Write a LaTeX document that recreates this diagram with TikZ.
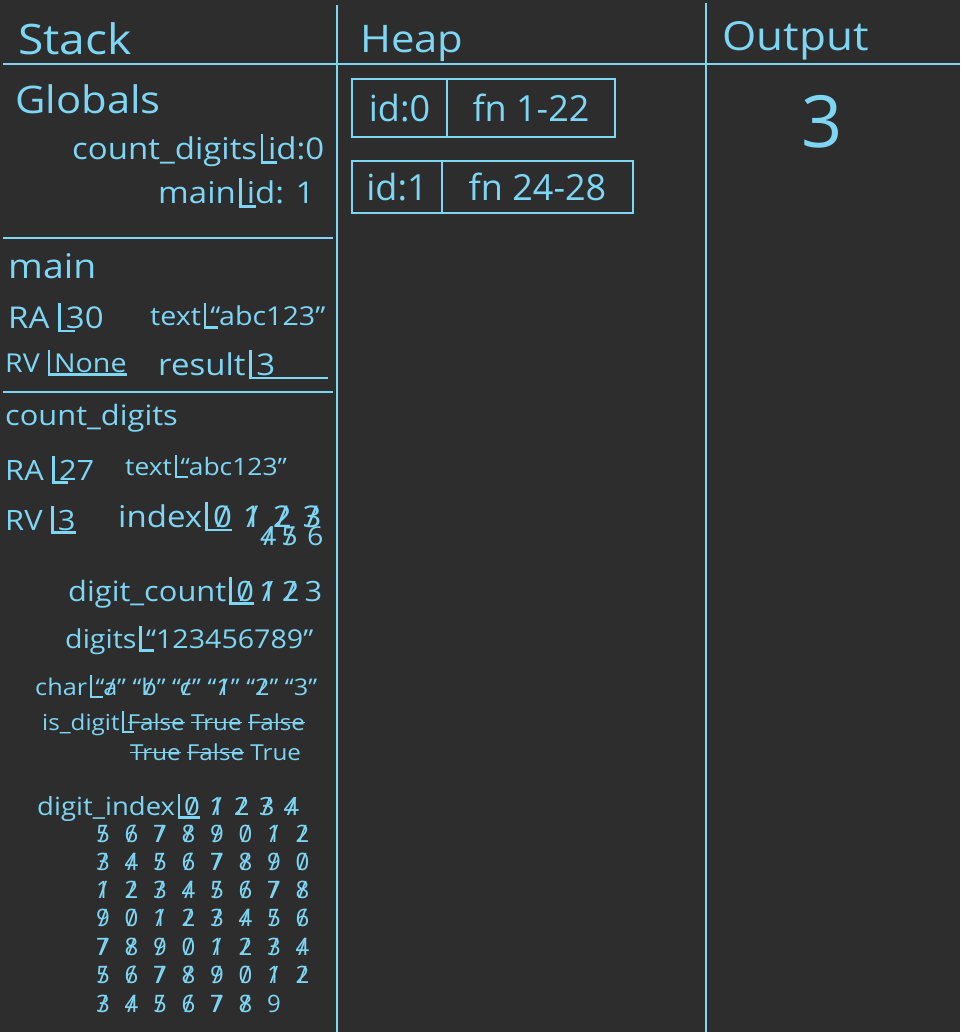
\documentclass[tikz,border=0pt]{standalone}
\usepackage{fontspec}
\setmainfont{Open Sans}
\definecolor{bgc}{RGB}{45,45,45}
\definecolor{ink}{RGB}{126,214,245}
\newsavebox\xboxa
\newsavebox\xboxb
\newsavebox\xboxc
\newcommand\fs[1]{\fontsize{#1}{#1}\selectfont}
\newcommand\Lb{\kern0.1em\vrule width0.09em height0.85em depth0.14em\rlap{\vrule width0.42em height-0.05em depth0.14em}\kern0.14em}
\newcommand\Lu[1]{\sbox\xboxa{#1}\kern0.1em\vrule width0.09em height0.85em depth0.14em\rlap{\vrule width\dimexpr\wd\xboxa+0.14em\relax height-0.05em depth0.14em}\kern0.14em\usebox\xboxa}
\newcommand\xd[1]{\sbox\xboxb{#1}\rlap{\usebox\xboxb}\makebox[\wd\xboxb]{/}}
\newcommand\xw[1]{\sbox\xboxc{#1}\rlap{\usebox\xboxc}\rule[0.3em]{\wd\xboxc}{0.07em}}
\tikzset{
  hw/.style={text=ink, inner sep=0pt, anchor=base west, xscale=1.1},
  hwc/.style={text=ink, inner sep=0pt, anchor=base},
  rule/.style={draw=ink, line width=2.2pt},
  cell/.style={draw=ink, line width=2pt, text=ink, inner sep=0pt, outer sep=0pt, anchor=north west, font=\fs{36}},
}
\begin{document}
\begin{tikzpicture}[x=1pt,y=-1pt]
\fill[bgc] (0,0) rectangle (960,1032);
\useasboundingbox (0,0) rectangle (960,1032);
% frame lines
\draw[rule] (3,64) -- (960,64);
\draw[rule] (337,5) -- (337,1032);
\draw[rule] (706,3) -- (706,1032);
\draw[rule] (3,238) -- (333,238);
\draw[rule] (3,392) -- (333,392);
% headers
\node[hw,font=\fs{42}] (stk) at (18,55) {Stack};
\node[hw,font=\fs{38}] (hp) at (360,53) {Heap};
\node[hw,font=\fs{40}] (outh) at (722,51) {Output};
% globals
\node[hw,font=\fs{38}] (glob) at (15,114) {Globals};
\node[hw,font=\fs{30}] (gcd) at (72,160) {count\_digits\Lb id:0};
\node[hw,font=\fs{30}] (gmain) at (158,204) {main\Lb id: 1};
% main frame
\node[hw,font=\fs{34}] (fmain) at (8,278) {main};
\node[hw,font=\fs{30}] (mra) at (8,328) {RA\,\Lb 30};
\node[hw,font=\fs{26}] (mtext) at (150,325) {text\Lb “abc123”};
\node[hw,font=\fs{26}] (mrv) at (5,372) {RV\,\Lu{None}};
\node[hw,font=\fs{30}] (mres) at (158,375) {result\Lu{3\hspace{1.6em}}};
% count_digits frame
\node[hw,font=\fs{28}] (cdh) at (5,425) {count\_digits};
\node[hw,font=\fs{28}] (cra) at (5,480) {RA\,\Lb 27};
\node[hw,font=\fs{24}] (ctext) at (125,475) {text\Lb “abc123”};
\node[hw,font=\fs{28}] (crv) at (5,530) {RV\,\Lu{3}};
\node[hw,font=\fs{30}] (cidx) at (118,527) {index\Lu{\xd0}\,\,\xd1\,\,\xd2\,\,\xd3};
\node[hw,font=\fs{26}] (cidx2) at (260,545) {\xd4\,\xd5\,\,6};
\node[hw,font=\fs{28}] (cdc) at (68,601) {digit\_count\Lu{\xd0}\,\xd1\,\xd2\,3};
\node[hw,font=\fs{26}] (cdig) at (65,648) {digits\Lb “123456789”};
\node[hw,font=\fs{23}] (cchar) at (35,695) {char\Lb\xd{“a”} \xd{“b”} \xd{“c”} \xd{“1”} \xd{“2”} “3”};
\node[hw,font=\fs{22}] (cis1) at (42,730) {is\_digit\Lb\xw{False} \xw{True} \xw{False}};
\node[hw,font=\fs{22}] (cis2) at (130,760) {\xw{True} \xw{False} True};
\node[hw,font=\fs{25}] (cdi) at (37,815) {digit\_index\Lu{\xd0}\,\,\xd1\,\,\xd2\,\,\xd3\,\,\xd4};
\foreach \row [count=\r] in {{5,6,7,8,9,0,1,2},{3,4,5,6,7,8,9,0},{1,2,3,4,5,6,7,8},{9,0,1,2,3,4,5,6},{7,8,9,0,1,2,3,4},{5,6,7,8,9,0,1,2}}
  \foreach \d [count=\c] in \row
    \node[hwc,font=\fs{24}] (di-\r-\c) at ({103+28.5*(\c-1)},{842+28.3*(\r-1)}) {\xd{\d}};
\foreach \d [count=\c] in {3,4,5,6,7,8}
  \node[hwc,font=\fs{24}] (di-7-\c) at ({103+28.5*(\c-1)},1012) {\xd{\d}};
\node[hwc,font=\fs{24}] (di-7-7) at (274,1012) {9};
% heap
\node[cell, minimum width=95pt, minimum height=58pt] (h0id) at (352,79) {id:0};
\node[cell, minimum width=168pt, minimum height=58pt] (h0fn) at (h0id.north east) {fn 1-22};
\node[cell, minimum width=90pt, minimum height=52pt] (h1id) at (352,161) {id:1};
\node[cell, minimum width=191pt, minimum height=52pt] (h1fn) at (h1id.north east) {fn 24-28};
% output
\node[text=ink, font=\fs{72}, inner sep=0pt] (o3) at (822,122) {3};
\end{tikzpicture}
\end{document}
